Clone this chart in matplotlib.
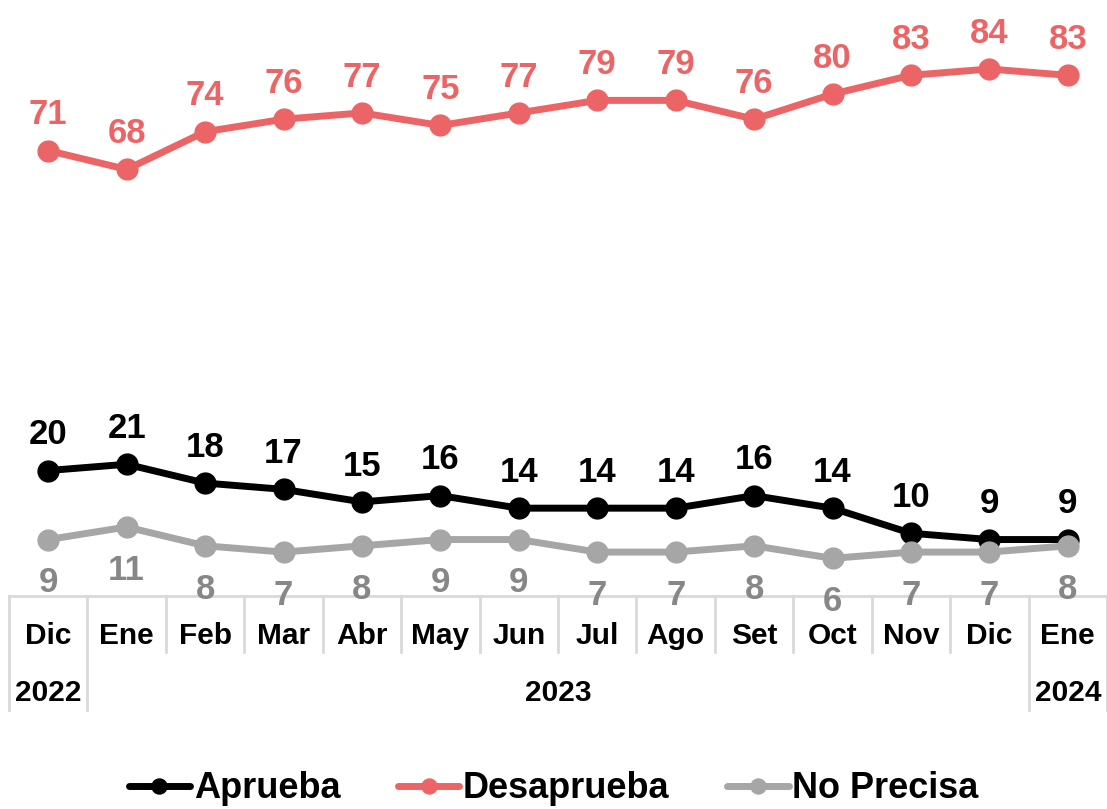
import numpy as np
import matplotlib
matplotlib.use('Agg')
from matplotlib import pyplot as plt
from matplotlib.transforms import blended_transform_factory

matplotlib.rcParams['font.family'] = ['Liberation Sans', 'DejaVu Sans']
matplotlib.rcParams['font.weight'] = 'bold'

months = ['Dic', 'Ene', 'Feb', 'Mar', 'Abr', 'May', 'Jun', 'Jul', 'Ago', 'Set', 'Oct', 'Nov', 'Dic', 'Ene']
years = ['2022', '2023', '2024']
year_span = [(0, 0), (1, 12), (13, 13)]  # first and last month index of each year

aprueba = [20, 21, 18, 17, 15, 16, 14, 14, 14, 16, 14, 10, 9, 9]
desaprueba = [71, 68, 74, 76, 77, 75, 77, 79, 79, 76, 80, 83, 84, 83]
no_precisa = [9, 11, 8, 7, 8, 9, 9, 7, 7, 8, 6, 7, 7, 8]

c_apr = 'black'
c_des = '#EC6566'
c_np = '#A6A6A6'
c_np_lab = '#878787'
c_grid = '#D9D9D9'

fig = plt.figure(figsize=(11.07, 8.09), dpi=100)
ax = fig.add_axes([9/1107, (809-596)/809, 1-9/1107, 596/809])

x = np.arange(len(months))
series = [(aprueba, c_apr, c_apr, 'Aprueba', 19),
          (desaprueba, c_des, c_des, 'Desaprueba', 19),
          (no_precisa, c_np, c_np_lab, 'No Precisa', -38)]
for vals, col, lcol, name, off in series:
    ax.plot(x, vals, color=col, lw=5, marker='o', ms=15, label=name, solid_capstyle='round', zorder=3)
    for xi, v in zip(x, vals):
        ax.annotate(str(v), (xi, v), xytext=(0, off), textcoords='offset points',
                    ha='center', va='baseline', fontsize=25, color=lcol, fontweight='bold')

ax.set_xlim(-0.5, len(months)-0.5)
ax.set_ylim(0, 95)
ax.set_yticks([])
for s in ['top', 'right', 'left']:
    ax.spines[s].set_visible(False)
ax.spines['bottom'].set_color(c_grid)
ax.spines['bottom'].set_linewidth(2)
ax.set_xticks(x)
ax.set_xticklabels(months, fontsize=21.5, fontweight='bold')
ax.tick_params(axis='x', length=0, pad=19)

# category separators
trans = blended_transform_factory(ax.transData, ax.transAxes)
year_edges = [s - 0.5 for s, e in year_span] + [len(months) - 0.5]
for b in np.arange(-0.5, len(months), 1.0):
    depth = -0.192 if b in year_edges else -0.094
    ax.plot([b, b], [0, depth], color=c_grid, lw=2, transform=trans, clip_on=False)

for yr, (s, e) in zip(years, year_span):
    ax.text((s + e) / 2, -0.176, yr, transform=trans, ha='center', va='baseline',
            fontsize=21.5, fontweight='bold')

fig.legend(loc='center', bbox_to_anchor=(0.5, 20/809), ncol=3, frameon=False,
           fontsize=26, handlelength=1.7, handletextpad=0.1, columnspacing=1.6,
           markerscale=0.72, borderpad=0.1)

fig.savefig('out.png', dpi=100)
